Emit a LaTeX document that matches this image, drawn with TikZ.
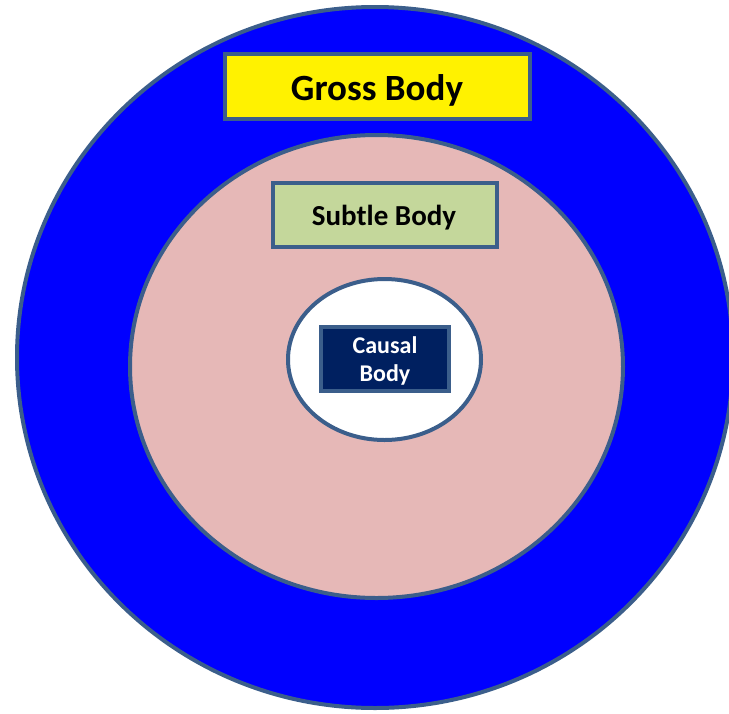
\documentclass[tikz,border=0pt]{standalone}
\usepackage{fontspec}
\setmainfont{Carlito}
\usetikzlibrary{shapes.geometric}
\definecolor{edgeblue}{HTML}{3B5E8B}
\definecolor{outerblue}{HTML}{0000FF}
\definecolor{pinkfill}{HTML}{E6B8B7}
\definecolor{greenfill}{HTML}{C4D79B}
\definecolor{navyfill}{HTML}{002060}
\tikzset{
  ring/.style={ellipse, draw=edgeblue, line width=4pt, inner sep=0pt, outer sep=0pt},
  labelbox/.style={rectangle, draw=edgeblue, line width=4pt, inner sep=0pt, outer sep=0pt, text=black}
}
\begin{document}
\begin{tikzpicture}[x=1pt,y=-1pt]
\useasboundingbox (0,0) rectangle (729,713);
\clip (0,0) rectangle (729,713);
\node[ring, fill=outerblue, minimum width=716pt, minimum height=701pt] (gross) at (375,357.5) {};
\node[ring, fill=pinkfill, minimum width=493pt, minimum height=463pt] (subtle) at (376.5,366.5) {};
\node[ring, fill=white, minimum width=193pt, minimum height=161pt] (causal) at (384.5,359.5) {};
\node[labelbox, fill=yellow, minimum width=305pt, minimum height=65pt] (grosslabel) at (377.5,86.5) {};
\node[font=\bfseries\fontsize{37}{44}\selectfont, anchor=base, inner sep=0pt] (grosstext) at (377,100) {Gross Body};
\node[labelbox, fill=greenfill, minimum width=224pt, minimum height=64pt] (subtlelabel) at (385,215) {};
\node[font=\bfseries\fontsize{29}{34}\selectfont, anchor=base, inner sep=0pt] (subtletext) at (384,225) {Subtle Body};
\node[labelbox, fill=navyfill, minimum width=128pt, minimum height=64pt] (causallabel) at (385,359) {};
\node[font=\bfseries\fontsize{24}{28}\selectfont, text=white, align=center, inner sep=0pt] (causaltext) at (385,361) {Causal\\Body};
\end{tikzpicture}
\end{document}
